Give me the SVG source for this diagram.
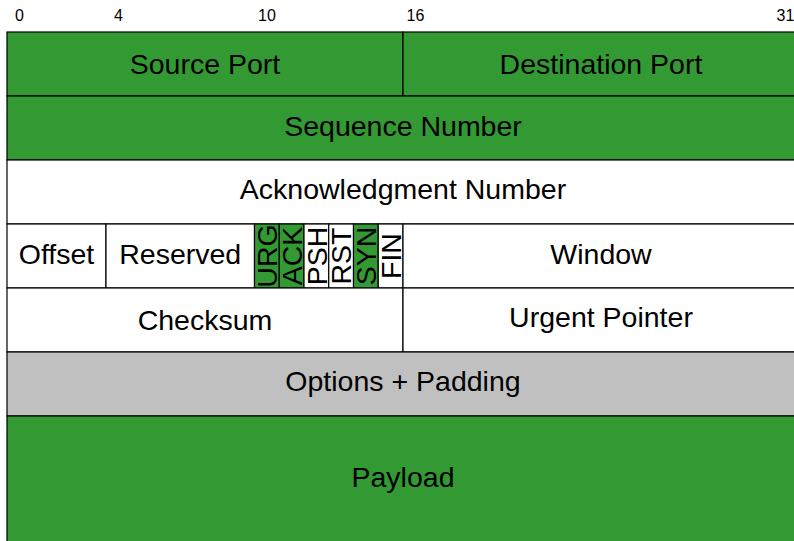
<svg xmlns="http://www.w3.org/2000/svg" width="794" height="541" viewBox="0 0 794 541">
  <style>
    .cell { stroke: #000; stroke-width: 1.2; }
    .g { fill: #339933; }
    .w { fill: #ffffff; }
    .s { fill: #c0c0c0; }
    .lbl { font-family: "Liberation Sans", Arial, sans-serif; font-size: 28.5px; fill: #000; text-anchor: middle; }
    .bit { font-family: "Liberation Sans", Arial, sans-serif; font-size: 16px; fill: #000; text-anchor: middle; }
  </style>
  <rect x="0" y="0" width="794" height="541" fill="#ffffff"/>

  <!-- bit offsets ruler -->
  <g id="ruler">
    <text class="bit" x="19.4" y="21">0</text>
    <text class="bit" x="118.4" y="21">4</text>
    <text class="bit" x="266.9" y="21">10</text>
    <text class="bit" x="415.4" y="21">16</text>
    <text class="bit" x="785.5" y="21">31</text>
  </g>

  <!-- row 1 -->
  <g id="source-port">
    <rect class="cell g" x="7" y="32" width="396" height="64"/>
    <text class="lbl" x="205" y="74">Source Port</text>
  </g>
  <g id="destination-port">
    <rect class="cell g" x="403" y="32" width="396" height="64"/>
    <text class="lbl" x="601" y="74">Destination Port</text>
  </g>

  <!-- row 2 -->
  <g id="sequence-number">
    <rect class="cell g" x="7" y="96" width="792" height="64"/>
    <text class="lbl" x="403" y="136">Sequence Number</text>
  </g>

  <!-- row 3 -->
  <g id="acknowledgment-number">
    <rect class="cell w" x="7" y="160" width="792" height="64"/>
    <text class="lbl" x="403" y="199">Acknowledgment Number</text>
  </g>

  <!-- row 4 -->
  <g id="offset">
    <rect class="cell w" x="7" y="224" width="99" height="64"/>
    <text class="lbl" x="56.5" y="264">Offset</text>
  </g>
  <g id="reserved">
    <rect class="cell w" x="106" y="224" width="148.5" height="64"/>
    <text class="lbl" x="180.25" y="264">Reserved</text>
  </g>
  <g id="flag-urg">
    <rect class="cell g" x="254.5" y="224" width="24.75" height="64"/>
    <text class="lbl" transform="translate(277,256) rotate(-90)">URG</text>
  </g>
  <g id="flag-ack">
    <rect class="cell g" x="279.25" y="224" width="24.75" height="64"/>
    <text class="lbl" transform="translate(301.8,256) rotate(-90)">ACK</text>
  </g>
  <g id="flag-psh">
    <rect class="cell w" x="304" y="224" width="24.75" height="64"/>
    <text class="lbl" transform="translate(326.5,256) rotate(-90)">PSH</text>
  </g>
  <g id="flag-rst">
    <rect class="cell w" x="328.75" y="224" width="24.75" height="64"/>
    <text class="lbl" transform="translate(351.3,256) rotate(-90)">RST</text>
  </g>
  <g id="flag-syn">
    <rect class="cell g" x="353.5" y="224" width="24.75" height="64"/>
    <text class="lbl" transform="translate(376,256) rotate(-90)">SYN</text>
  </g>
  <g id="flag-fin">
    <rect class="cell w" x="378.25" y="224" width="24.75" height="64"/>
    <text class="lbl" transform="translate(400.8,256) rotate(-90)">FIN</text>
  </g>
  <g id="window">
    <rect class="cell w" x="403" y="224" width="396" height="64"/>
    <text class="lbl" x="601" y="264">Window</text>
  </g>

  <!-- row 5 -->
  <g id="checksum">
    <rect class="cell w" x="7" y="288" width="396" height="64"/>
    <text class="lbl" x="205" y="330">Checksum</text>
  </g>
  <g id="urgent-pointer">
    <rect class="cell w" x="403" y="288" width="396" height="64"/>
    <text class="lbl" x="601" y="327">Urgent Pointer</text>
  </g>

  <!-- row 6 -->
  <g id="options-padding">
    <rect class="cell s" x="7" y="352" width="792" height="64"/>
    <text class="lbl" x="403" y="391">Options + Padding</text>
  </g>

  <!-- payload -->
  <g id="payload">
    <rect class="cell g" x="7" y="416" width="792" height="128"/>
    <text class="lbl" x="403" y="487">Payload</text>
  </g>

  <g id="connectors"/>
</svg>
